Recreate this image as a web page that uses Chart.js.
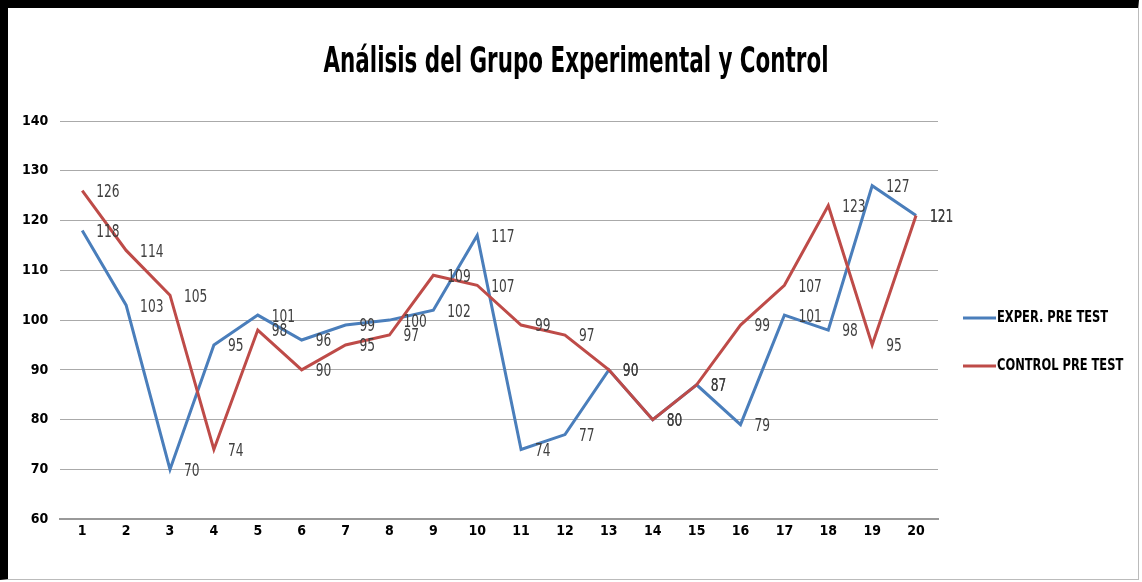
<!DOCTYPE html>
<html lang="es">
<head>
  <meta charset="UTF-8">
  <title>Análisis del Grupo Experimental y Control</title>
  <script src="https://cdn.jsdelivr.net/npm/chart.js"></script>
  <style>
    body { margin: 0; background: #fff; }
    .frame { position: absolute; left: 0; top: 0; width: 1139px; height: 580px; border-top: 8px solid #000; border-left: 8px solid #000; border-right: 1px solid #bbb; border-bottom: 1px solid #bbb; box-sizing: border-box; }
    .wrap { position: absolute; left: 0; top: 0; width: 1142px; height: 582px; }
  </style>
</head>
<body>
<div class="frame"></div>
<div class="wrap"><canvas id="chart"></canvas></div>

<script>
  const titulo = 'Análisis del Grupo Experimental y Control';
  const sesiones = ['1','2','3','4','5','6','7','8','9','10','11','12','13','14','15','16','17','18','19','20'];
  const experPre = [118, 103, 70, 95, 101, 96, 99, 100, 102, 117, 74, 77, 90, 80, 87, 79, 101, 98, 127, 121];
  const controlPre = [126, 114, 105, 74, 98, 90, 95, 97, 109, 107, 99, 97, 90, 80, 87, 99, 107, 123, 95, 121];
  const yMin = 60, yMax = 140, yStep = 10;

  const fontName = '"DejaVu Sans Condensed", "Liberation Sans Narrow", Arial, sans-serif';

  // texto estrecho tipo Calibri: se comprime horizontalmente
  function narrowText(ctx, text, x, y, squeeze) {
    ctx.save();
    ctx.translate(x, y);
    ctx.scale(squeeze, 1);
    ctx.fillText(text, 0, 0);
    ctx.restore();
  }

  // título, etiquetas de valor y leyenda a la derecha
  const extras = {
    id: 'extras',
    afterDatasetsDraw(chart) {
      const ctx = chart.ctx;
      const area = chart.chartArea;
      ctx.save();

      // etiquetas de valor a la derecha de cada punto
      ctx.font = '17px ' + fontName;
      ctx.fillStyle = '#404040';
      ctx.textAlign = 'left';
      ctx.textBaseline = 'middle';
      chart.data.datasets.forEach((ds, i) => {
        const meta = chart.getDatasetMeta(i);
        meta.data.forEach((pt, j) => {
          narrowText(ctx, String(ds.data[j]), pt.x + 14, pt.y + 2, 0.8);
        });
      });

      // título
      ctx.font = 'bold 36px ' + fontName;
      ctx.fillStyle = '#000';
      ctx.textAlign = 'center';
      const tw = ctx.measureText(titulo).width;
      narrowText(ctx, titulo, 576, 63, 505 / tw);

      // leyenda
      const cy = (area.top + area.bottom) / 2;
      ctx.font = 'bold 15px ' + fontName;
      ctx.textAlign = 'left';
      chart.data.datasets.forEach((ds, i) => {
        const y = cy - 2 + i * 48;
        ctx.strokeStyle = ds.borderColor;
        ctx.lineWidth = 3;
        ctx.beginPath();
        ctx.moveTo(area.right + 25, y);
        ctx.lineTo(area.right + 58, y);
        ctx.stroke();
        ctx.fillStyle = '#000';
        narrowText(ctx, ds.label, area.right + 59, y, 0.85);
      });
      ctx.restore();
    }
  };

  new Chart(document.getElementById('chart'), {
    type: 'line',
    data: {
      labels: sesiones,
      datasets: [
        { label: 'EXPER. PRE TEST', data: experPre, borderColor: '#4a7ebb', backgroundColor: '#4a7ebb', borderWidth: 3, pointRadius: 0, tension: 0, order: 1 },
        { label: 'CONTROL PRE TEST', data: controlPre, borderColor: '#be4b48', backgroundColor: '#be4b48', borderWidth: 3, pointRadius: 0, tension: 0, order: 0 }
      ]
    },
    options: {
      responsive: true,
      maintainAspectRatio: false,
      animation: false,
      layout: { padding: { left: 10, right: 204, top: 121, bottom: 38 } },
      plugins: {
        title: { display: false },
        legend: { display: false },
        tooltip: { enabled: false }
      },
      scales: {
        x: {
          offset: true,
          grid: { display: false, drawTicks: false },
          border: { display: true, color: '#999', width: 2 },
          ticks: { color: '#000', padding: 4, font: { family: fontName, size: 14, weight: 'bold' } }
        },
        y: {
          min: yMin,
          max: yMax,
          ticks: { stepSize: yStep, color: '#000', padding: 12, font: { family: fontName, size: 14, weight: 'bold' } },
          grid: { color: '#aaa', lineWidth: 1, drawTicks: false },
          border: { display: false }
        }
      }
    },
    plugins: [extras]
  });
</script>
</body>
</html>
